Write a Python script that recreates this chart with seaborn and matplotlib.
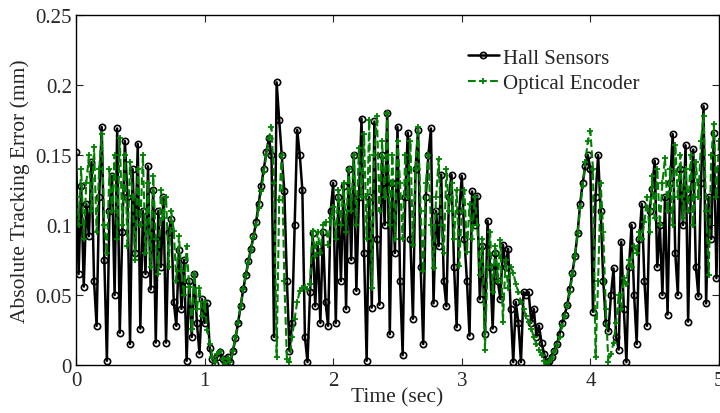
import numpy as np
import pandas as pd
import matplotlib
matplotlib.use("Agg")
import matplotlib.pyplot as plt
from matplotlib.ticker import FuncFormatter
import seaborn as sns

# sample times (20 ms steps, 0 .. 5 s)
time_s = np.round(np.arange(0, 251) * 0.02, 2)

# absolute tracking error, mm (one row = 0.2 s)
hall_err = [
    0.152, 0.065, 0.128, 0.056, 0.115, 0.092, 0.145, 0.060, 0.028, 0.120,
    0.170, 0.075, 0.003, 0.110, 0.135, 0.050, 0.169, 0.023, 0.095, 0.160,
    0.120, 0.015, 0.140, 0.080, 0.158, 0.026, 0.110, 0.065, 0.142, 0.054,
    0.125, 0.016, 0.110, 0.070, 0.120, 0.016, 0.095, 0.104, 0.045, 0.028,
    0.082, 0.040, 0.075, 0.003, 0.060, 0.020, 0.065, 0.030, 0.008, 0.047,
    0.030, 0.044, 0.012, 0.004, 0.001, 0.006, 0.009, 0.004, 0.002, 0.006,
    0.002, 0.010, 0.019, 0.030, 0.042, 0.054, 0.064, 0.074, 0.083, 0.092,
    0.102, 0.115, 0.128, 0.140, 0.152, 0.162, 0.150, 0.020, 0.202, 0.175,
    0.150, 0.124, 0.060, 0.010, 0.030, 0.100, 0.168, 0.150, 0.125, 0.020,
    0.002, 0.052, 0.094, 0.042, 0.085, 0.030, 0.095, 0.045, 0.028, 0.110,
    0.130, 0.030, 0.120, 0.060, 0.128, 0.040, 0.140, 0.075, 0.150, 0.053,
    0.120, 0.176, 0.080, 0.003, 0.120, 0.041, 0.174, 0.090, 0.043, 0.150,
    0.100, 0.180, 0.022, 0.130, 0.080, 0.170, 0.060, 0.007, 0.120, 0.166,
    0.090, 0.033, 0.140, 0.168, 0.070, 0.015, 0.120, 0.150, 0.169, 0.044,
    0.110, 0.085, 0.136, 0.060, 0.042, 0.120, 0.136, 0.070, 0.027, 0.110,
    0.135, 0.090, 0.060, 0.021, 0.124, 0.100, 0.121, 0.047, 0.085, 0.022,
    0.103, 0.070, 0.026, 0.080, 0.060, 0.047, 0.086, 0.070, 0.083, 0.040,
    0.002, 0.045, 0.030, 0.002, 0.052, 0.050, 0.052, 0.030, 0.040, 0.020,
    0.028, 0.016, 0.008, 0.001, 0.003, 0.006, 0.010, 0.015, 0.022, 0.030,
    0.036, 0.043, 0.054, 0.066, 0.078, 0.094, 0.115, 0.130, 0.142, 0.150,
    0.140, 0.038, 0.120, 0.150, 0.110, 0.060, 0.030, 0.024, 0.050, 0.069,
    0.020, 0.011, 0.088, 0.040, 0.002, 0.070, 0.100, 0.050, 0.015, 0.090,
    0.115, 0.060, 0.028, 0.110, 0.126, 0.146, 0.070, 0.100, 0.050, 0.120,
    0.036, 0.130, 0.165, 0.080, 0.050, 0.140, 0.100, 0.157, 0.031, 0.120,
    0.154, 0.070, 0.049, 0.130, 0.185, 0.044, 0.120, 0.090, 0.166, 0.062,
    0.140,
]

optical_err = [
    0.120, 0.100, 0.140, 0.090, 0.130, 0.150, 0.110, 0.156, 0.095, 0.140,
    0.165, 0.100, 0.080, 0.140, 0.110, 0.150, 0.090, 0.162, 0.100, 0.150,
    0.085, 0.145, 0.120, 0.075, 0.140, 0.100, 0.150, 0.080, 0.130, 0.070,
    0.135, 0.090, 0.065, 0.125, 0.105, 0.120, 0.070, 0.110, 0.096, 0.060,
    0.092, 0.067, 0.050, 0.085, 0.056, 0.026, 0.065, 0.040, 0.055, 0.035,
    0.045, 0.025, 0.015, 0.006, 0.002, 0.008, 0.010, 0.004, 0.001, 0.005,
    0.002, 0.010, 0.020, 0.030, 0.042, 0.054, 0.064, 0.073, 0.082, 0.091,
    0.100, 0.112, 0.124, 0.138, 0.150, 0.162, 0.170, 0.130, 0.006, 0.118,
    0.150, 0.060, 0.004, 0.002, 0.020, 0.033, 0.045, 0.053, 0.055, 0.056,
    0.054, 0.058, 0.096, 0.078, 0.095, 0.080, 0.100, 0.102, 0.086, 0.105,
    0.113, 0.090, 0.125, 0.100, 0.130, 0.095, 0.140, 0.110, 0.150, 0.100,
    0.155, 0.120, 0.165, 0.090, 0.175, 0.055, 0.150, 0.178, 0.110, 0.160,
    0.120, 0.180, 0.100, 0.150, 0.090, 0.160, 0.130, 0.090, 0.150, 0.120,
    0.160, 0.086, 0.140, 0.170, 0.110, 0.067, 0.130, 0.150, 0.100, 0.069,
    0.120, 0.147, 0.100, 0.080, 0.140, 0.110, 0.130, 0.090, 0.125, 0.071,
    0.110, 0.125, 0.081, 0.115, 0.090, 0.120, 0.100, 0.064, 0.090, 0.011,
    0.070, 0.095, 0.052, 0.085, 0.060, 0.089, 0.031, 0.075, 0.055, 0.070,
    0.066, 0.058, 0.052, 0.045, 0.040, 0.035, 0.031, 0.026, 0.020, 0.015,
    0.011, 0.007, 0.003, 0.000, 0.002, 0.005, 0.009, 0.014, 0.020, 0.028,
    0.035, 0.042, 0.052, 0.064, 0.078, 0.094, 0.112, 0.128, 0.145, 0.160,
    0.167, 0.140, 0.006, 0.060, 0.130, 0.095, 0.040, 0.002, 0.008, 0.016,
    0.030, 0.050, 0.040, 0.062, 0.058, 0.075, 0.070, 0.085, 0.080, 0.095,
    0.090, 0.102, 0.120, 0.095, 0.135, 0.105, 0.140, 0.100, 0.130, 0.148,
    0.110, 0.140, 0.100, 0.157, 0.120, 0.150, 0.105, 0.140, 0.110, 0.150,
    0.100, 0.145, 0.120, 0.160, 0.178, 0.110, 0.064, 0.150, 0.172, 0.120,
    0.160,
]

series_names = ["Hall Sensors", "Optical Encoder"]
x_ticks = [0, 1, 2, 3, 4, 5]
y_ticks = [0, 0.05, 0.1, 0.15, 0.2, 0.25]

df = pd.DataFrame({"time": time_s, "hall": hall_err, "optical": optical_err})

sns.set_style("ticks")
plt.rcParams["font.family"] = ["Liberation Serif", "DejaVu Serif"]
plt.rcParams["xtick.direction"] = "in"
plt.rcParams["ytick.direction"] = "in"

fig = plt.figure(figsize=(7.2, 4.14), dpi=100)
ax = fig.add_axes([0.1056, 0.116, 0.893, 0.845])

# seaborn draws white marker edges by default -> set them explicitly
sns.lineplot(data=df, x="time", y="hall", ax=ax, color="black", lw=1.8,
             marker="o", markersize=4.5, markerfacecolor="none",
             markeredgecolor="black", markeredgewidth=1.2,
             label=series_names[0])
sns.lineplot(data=df, x="time", y="optical", ax=ax, color="#008000", lw=1.5,
             linestyle="--", marker="+", markersize=5,
             markeredgecolor="#008000", markeredgewidth=1.3,
             label=series_names[1])

ax.set_xlim(0, 5)
ax.set_ylim(0, 0.25)
ax.set_xticks(x_ticks)
ax.set_yticks(y_ticks)
ax.yaxis.set_major_formatter(FuncFormatter(lambda v, p: f"{v:g}"))
ax.tick_params(axis="both", which="both", top=True, right=True, length=5,
               width=0.8, labelsize=15)
ax.tick_params(axis="x", pad=4)
ax.tick_params(axis="y", pad=3)
for sp in ax.spines.values():
    sp.set_linewidth(1.0)
    sp.set_color("black")

ax.set_xlabel("Time (sec)", fontsize=15.5, labelpad=-2)
ax.set_ylabel("Absolute Tracking Error (mm)", fontsize=15.5, labelpad=4)

ax.legend(loc="upper left", bbox_to_anchor=(0.596, 0.93), frameon=False,
          fontsize=15, handlelength=1.5, handletextpad=0.2, labelspacing=0.3,
          borderaxespad=0)

fig.savefig("out.png", dpi=100)
